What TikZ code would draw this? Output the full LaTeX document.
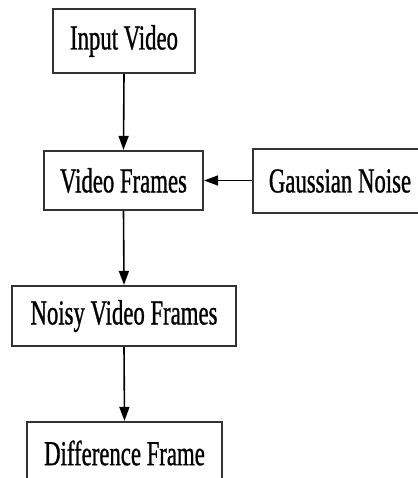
\documentclass[tikz,border=0pt]{standalone}
\usepackage{fontspec}
\newfontfamily\dfont[FakeStretch=0.65,FakeBold=0.8]{Liberation Serif}
\usetikzlibrary{arrows.meta}
\definecolor{boxline}{HTML}{333333}
\tikzset{
  blk/.style={draw=boxline, line width=2.2pt, fill=white, inner sep=0pt,
    font=\dfont\fontsize{35}{40}\selectfont, text=black, anchor=center},
  conn/.style={line width=1.6pt, draw=black, -{Triangle[length=14pt,width=10pt]}}
}
\begin{document}
\begin{tikzpicture}[x=1pt,y=-1pt]
\useasboundingbox[fill=white] (0,0) rectangle (417,478);
\node[blk, minimum width=142pt, minimum height=64pt] (iv) at (124,41) {Input Video};
\node[blk, minimum width=159pt, minimum height=59pt] (vf) at (123.5,180.5) {Video Frames};
\node[blk, minimum width=174pt, minimum height=64pt] (gn) at (340,181) {Gaussian Noise};
\node[blk, minimum width=224pt, minimum height=60pt] (nvf) at (124,316) {Noisy Video Frames};
\node[blk, minimum width=195pt, minimum height=62pt] (df) at (124.5,453) {Difference Frame};
\draw[conn] (iv.south) -- (vf.north);
\draw[conn] (gn.west |- vf.east) -- (vf.east);
\draw[conn] (vf.south) -- (nvf.north);
\draw[conn] (nvf.south) -- (df.north);
\end{tikzpicture}
\end{document}
